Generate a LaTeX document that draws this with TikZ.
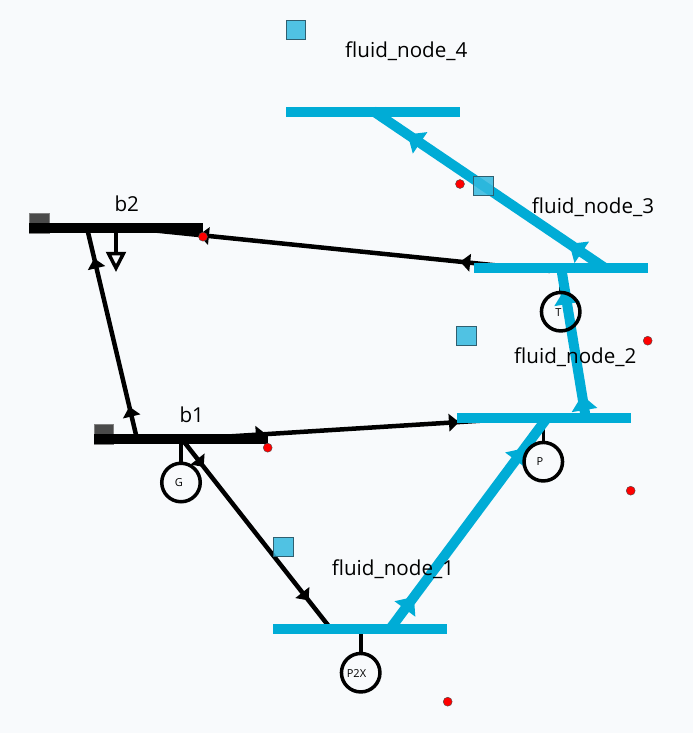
\documentclass[tikz,border=0pt]{standalone}
\usepackage{fontspec}
\setmainfont{Open Sans}
\usetikzlibrary{decorations.markings,backgrounds}
\definecolor{pagebg}{HTML}{F8FAFC}
\definecolor{fluid}{HTML}{00ACD6}
\definecolor{sqfill}{HTML}{33B9DF}
\definecolor{sqedge}{HTML}{2F5F70}
\definecolor{capgray}{HTML}{4A4A4A}
\newcommand{\flowtip}[3]{\fill[#3] (0pt,#2pt) -- (#1pt,0pt) -- (0pt,-#2pt) -- cycle;}
\tikzset{
  x=1pt,y=-1pt,
  elecbus/.style={rectangle,fill=black,inner sep=0pt,outer sep=0pt,minimum height=10pt},
  fluidbus/.style={rectangle,fill=fluid,inner sep=0pt,outer sep=0pt,minimum height=10pt,minimum width=174pt},
  capbox/.style={rectangle,fill=capgray,draw=capgray!70,line width=.5pt,inner sep=0pt,outer sep=0pt,minimum size=19.5pt},
  sqbox/.style={rectangle,fill=sqfill,fill opacity=.85,draw=sqedge,line width=.9pt,inner sep=0pt,outer sep=0pt,minimum size=19.5pt},
  dev/.style={circle,draw=black,line width=3.5pt,inner sep=0pt,outer sep=0pt,minimum size=38.5pt},
  devtext/.style={inner sep=0pt,font=\fontsize{11}{13}\selectfont,text=black},
  reddot/.style={circle,fill=red,draw=black!70,line width=.4pt,inner sep=0pt,minimum size=9pt},
  lab/.style={anchor=base west,inner sep=0pt,font=\fontsize{20.6}{24}\selectfont,text=black},
  stem/.style={draw=black,line width=3.6pt},
  elecflow/.style 2 args={draw=black,line width=4.5pt,postaction={decorate},decoration={markings,
     mark=at position #1 with {\flowtip{10}{9}{black}},
     mark=at position #2 with {\flowtip{10}{9}{black}}}},
  fluidflow/.style 2 args={draw=fluid,line width=10pt,postaction={decorate},decoration={markings,
     mark=at position #1 with {\flowtip{15}{13}{fluid}},
     mark=at position #2 with {\flowtip{15}{13}{fluid}}}},
}
\begin{document}
\begin{tikzpicture}
\useasboundingbox (0,0) rectangle (693,733);
\begin{scope}[on background layer]
\fill[pagebg] (0,0) rectangle (693,733);
\end{scope}
% bus caps, then buses
\node[capbox] (capb2) at (39,223) {};
\node[capbox] (capb1) at (103.5,434.3) {};
\node[elecbus,minimum width=174pt] (b2) at (116,228) {};
\node[elecbus,minimum width=174pt] (b1) at (181,439) {};
\node[fluidbus] (f4) at (373,111.7) {};
\node[fluidbus] (f3) at (560.7,268.3) {};
\node[fluidbus] (f2) at (543.7,418.3) {};
\node[fluidbus] (f1) at (360.3,629) {};
% squares
\node[sqbox] (sq4) at (295.7,30) {};
\node[sqbox] (sq3) at (483.3,186) {};
\node[sqbox] (sq2) at (466.2,336) {};
\node[sqbox] (sq1) at (283.3,547) {};
% devices
\node[dev] (gen) at (181,482.5) {};
\node[dev] (pump) at (543.3,461.7) {};
\node[dev] (turb) at (560.7,311.7) {};
\node[dev] (p2x) at (360.7,672.7) {};
\node[devtext] (gtext) at (179,483) {G};
\node[devtext] (ptext) at (540,462) {P};
\node[devtext] (ttext) at (558.5,312.5) {T};
\node[devtext] (p2xtext) at (356.5,674) {P2X};
% anchor points on the buses
\coordinate (b1a) at (137,439);
\coordinate (b2a) at (87,228);
\coordinate (b1b) at (181,438);
\coordinate (f1a) at (331,629);
\coordinate (b1c) at (180,439.5);
\coordinate (f2a) at (543,416.8);
\coordinate (f3a) at (550,270.9);
\coordinate (b2b) at (116,226.5);
\coordinate (b2s) at (116,228);
\coordinate (f1b) at (390,629);
\coordinate (f2b) at (547,418);
\coordinate (f2c) at (585.8,418);
\coordinate (f3b) at (561.2,268);
\coordinate (f3c) at (605,268);
\coordinate (f4a) at (373,111);
\coordinate (ld) at (116,253.5);
\coordinate (ldl) at (108.5,253.5);
\coordinate (ldr) at (123.5,253.5);
\coordinate (ldb) at (116,268);
% connectors
\begin{scope}[on background layer]
\path[stem] (b1.center -| gen) -- (gen);
\path[stem] (f2.center -| pump) -- (pump);
\path[stem] (f3.center -| turb) -- (turb);
\path[stem] (f1.center -| p2x) -- (p2x);
\path[stem] (b2s) -- (ld);
\path[elecflow={.107}{.81}] (b1a) -- (b2a);
\path[elecflow={.11}{.809}] (b1b) -- (f1a);
\path[elecflow={.209}{.741}] (b1c) -- (f2a);
\path[elecflow={.184}{.786}] (f3a) -- (b2b);
\path[fluidflow={.095}{.80}] (f1b) -- (f2b);
\path[fluidflow={.053}{.76}] (f2c) -- (f3b);
\path[fluidflow={.10}{.797}] (f3c) -- (f4a);
\end{scope}
% load
\draw[black,line width=3.5pt,line join=miter] (ldl) -- (ldr) -- (ldb) -- cycle;
% red markers
\node[reddot] (r1) at (460,184) {};
\node[reddot] (r2) at (647.7,340.7) {};
\node[reddot] (r3) at (630.7,490.7) {};
\node[reddot] (r4) at (447.7,701.7) {};
\node[reddot] (r5) at (267.7,447.7) {};
\node[reddot] (r6) at (203,236.7) {};
% labels
\node[lab] (l4) at (345,58) {fluid\_node\_4};
\node[lab] (l3) at (531.7,213.3) {fluid\_node\_3};
\node[lab] (l2) at (514,363.3) {fluid\_node\_2};
\node[lab] (l1) at (331.7,575) {fluid\_node\_1};
\node[lab] (lb2) at (114.3,211.7) {b2};
\node[lab] (lb1) at (179.3,422.7) {b1};
\end{tikzpicture}
\end{document}
